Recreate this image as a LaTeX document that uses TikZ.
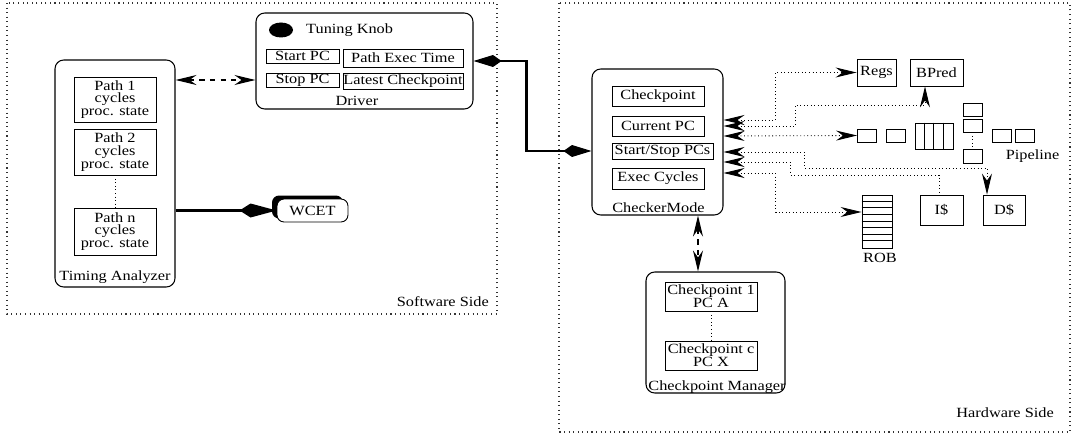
\documentclass[tikz,border=0pt]{standalone}
\usepackage{fontspec}
\setmainfont{Liberation Serif}[FakeStretch=1.16]
\usetikzlibrary{arrows.meta}
\usetikzlibrary{shadows}
\tikzset{
    cell/.style = {rectangle, draw=black, line width=0.5pt, inner sep=0pt, align=center},
    slot/.style = {rectangle, draw=black, line width=0.5pt, inner sep=0pt, minimum width=0.38cm, minimum height=0.26cm},
    mycont/.style = {rectangle, rounded corners=5pt, draw=black, line width=0.6pt, inner sep=0pt},
    area/.style = {draw=black!80, line width=0.6pt, dash pattern=on 0.6pt off 2pt},
    >={Stealth[length=0.42cm,width=0.2cm,inset=0.14cm]},
    kite/.tip={Kite[length=0.56cm,width=0.24cm,inset=0.17cm]},
    bigkite/.tip={Kite[length=0.74cm,width=0.28cm,inset=0.22cm]},
    edged/.style = {<->, line width=0.6pt, dash pattern=on 3pt off 3pt}, % driver / manager
    edgek/.style = {kite-kite, line width=1.2pt},
    edgew/.style = {-bigkite, line width=1.2pt},
    edgep/.style = {line width=0.5pt, dash pattern=on 0.5pt off 1.5pt}, % probes
    edgepa/.style = {<->, edgep}
}

\begin{document}
\begin{tikzpicture}[font=\fontsize{8}{7.2}\selectfont]
\useasboundingbox (0,0) rectangle (21.5,-8.72);
%
\draw[area] (0.14,-0.06) rectangle (9.94,-6.28);
\draw[area] (11.18,-0.06) rectangle (21.4,-8.64);
\node[anchor=east] at (9.9,-6.04) (sw) {Software Side};
\node[anchor=east] at (21.2,-8.26) (hw) {Hardware Side};
%
\node[mycont, minimum width=2.4cm, minimum height=4.54cm] at (2.3,-3.47) (ta) {};
\node[cell, minimum width=1.64cm, minimum height=0.9cm] at (2.3,-1.99) (p1) {Path 1\\cycles\\proc. state};
\node[cell, minimum width=1.64cm, minimum height=0.92cm] at (2.3,-3.04) (p2) {Path 2\\cycles\\proc. state};
\node[cell, minimum width=1.64cm, minimum height=0.94cm] at (2.3,-4.63) (pn) {Path n\\cycles\\proc. state};
\node at (2.3,-5.54) (talabel) {Timing Analyzer};
\draw[edgep] (p2) -- (pn);
%
\node[mycont, minimum width=4.34cm, minimum height=1.92cm] at (7.29,-1.22) (driver) {};
\fill (5.62,-0.6) ellipse (0.24 and 0.15);
\node[anchor=west] at (6.0,-0.6) (knob) {Tuning Knob};
\node[cell, minimum width=1.46cm, minimum height=0.28cm] at (6.05,-1.12) (startpc) {Start PC};
\node[cell, minimum width=2.4cm, minimum height=0.36cm] at (8.06,-1.16) (exectime) {Path Exec Time};
\node[cell, minimum width=1.46cm, minimum height=0.28cm] at (6.05,-1.6) (stoppc) {Stop PC};
\node[cell, minimum width=2.4cm, minimum height=0.32cm] at (8.06,-1.62) (latest) {Latest Checkpoint};
\node at (7.14,-2.02) (drvlabel) {Driver};
%
\node[cell, rounded corners=4pt, fill=white, minimum width=1.42cm, minimum height=0.46cm,
      general shadow={fill=black, shadow xshift=-0.1cm, shadow yshift=0.07cm}] at (6.25,-4.21) (wcet) {WCET};
%
\node[mycont, minimum width=2.62cm, minimum height=2.92cm] at (13.15,-2.84) (checker) {};
\node[cell, minimum width=1.84cm, minimum height=0.4cm] at (13.16,-1.92) (ckpt) {Checkpoint};
\node[cell, minimum width=1.84cm, minimum height=0.4cm] at (13.16,-2.52) (curpc) {Current PC};
\node[cell, minimum width=2.02cm, minimum height=0.32cm] at (13.25,-3.02) (startstop) {Start/Stop PCs};
\node[cell, minimum width=1.84cm, minimum height=0.42cm] at (13.16,-3.57) (execcyc) {Exec Cycles};
\node at (13.17,-4.16) (cklabel) {CheckerMode};
%
\node[mycont, minimum width=2.78cm, minimum height=2.42cm] at (14.31,-6.65) (cpm) {};
\node[cell, minimum width=1.84cm, minimum height=0.58cm] at (14.22,-5.93) (cp1) {Checkpoint 1\\PC A};
\node[cell, minimum width=1.84cm, minimum height=0.58cm] at (14.22,-7.11) (cpc) {Checkpoint c\\PC X};
\node at (14.34,-7.74) (cpmlabel) {Checkpoint Manager};
\draw[edgep] (cp1) -- (cpc);
%
\node[cell, minimum width=0.78cm, minimum height=0.54cm] at (17.53,-1.45) (regs) {Regs};
\node[cell, minimum width=1.06cm, minimum height=0.54cm] at (18.73,-1.45) (bpred) {BPred};
\node[slot] at (17.34,-2.71) (pa) {};
\node[slot] at (17.91,-2.71) (pb) {};
\node[cell, minimum width=0.76cm, minimum height=0.52cm] at (18.68,-2.72) (pq) {};
\foreach \k in {1,2,3}
    \draw[line width=0.5pt] ([xshift=\k*0.19cm]pq.north west) -- ([xshift=\k*0.19cm]pq.south west);
\node[slot] at (19.45,-2.19) (ps1) {};
\node[slot] at (19.45,-2.51) (ps2) {};
\node[slot, minimum height=0.28cm] at (19.45,-3.12) (ps3) {};
\draw[edgep] (ps2) -- (ps3);
\node[slot] at (20.03,-2.71) (pr1) {};
\node[slot] at (20.5,-2.71) (pr2) {};
\node at (20.65,-3.12) (pipelabel) {Pipeline};
\node[cell, minimum width=0.6cm, minimum height=1.06cm] at (17.54,-4.43) (rob) {};
\foreach \k in {1,...,7}
    \draw[line width=0.5pt] ([yshift=-\k*0.1325cm]rob.north west) -- ([yshift=-\k*0.1325cm]rob.north east);
\node at (17.6,-5.16) (roblabel) {ROB};
\node[cell, minimum width=0.86cm, minimum height=0.6cm] at (18.83,-4.2) (icache) {I\$};
\node[cell, minimum width=0.84cm, minimum height=0.6cm] at (20.08,-4.2) (dcache) {D\$};
%
\draw[edged] (ta.east |- stoppc) -- (driver.west |- stoppc);
\draw[edgew] (ta.east |- wcet) -- (wcet.west);
\draw[edgek] (driver.east) -- ++(1.06,0) |- (checker.west |- startstop);
\draw[edged] ([xshift=0.81cm]checker.south) -- ([xshift=0.81cm]checker.south |- cpm.north);
%
\draw[edgepa] ([yshift=0.44cm]checker.east) -- ++(1.04,0) |- (regs.west);
\draw[edgepa] ([yshift=0.32cm]checker.east) -- ++(1.44,0) -- ++(0,0.42) -| ([xshift=-0.23cm]bpred.south);
\draw[edgepa] ([yshift=0.12cm]checker.east) -- (pa.west);
\draw[edgepa] ([yshift=-0.2cm]checker.east) -- ++(1.62,0) -- ++(0,-0.32) -| ([xshift=-0.34cm]dcache.north);
\draw[edgep, <-] ([yshift=-0.4cm]checker.east) -- ++(1.34,0) -- ++(0,-0.26) -| ([xshift=-0.05cm]icache.north);
\draw[edgepa] ([yshift=-0.62cm]checker.east) -- ++(1.04,0) |- ([yshift=0.19cm]rob.west);

\end{tikzpicture}
\end{document}
